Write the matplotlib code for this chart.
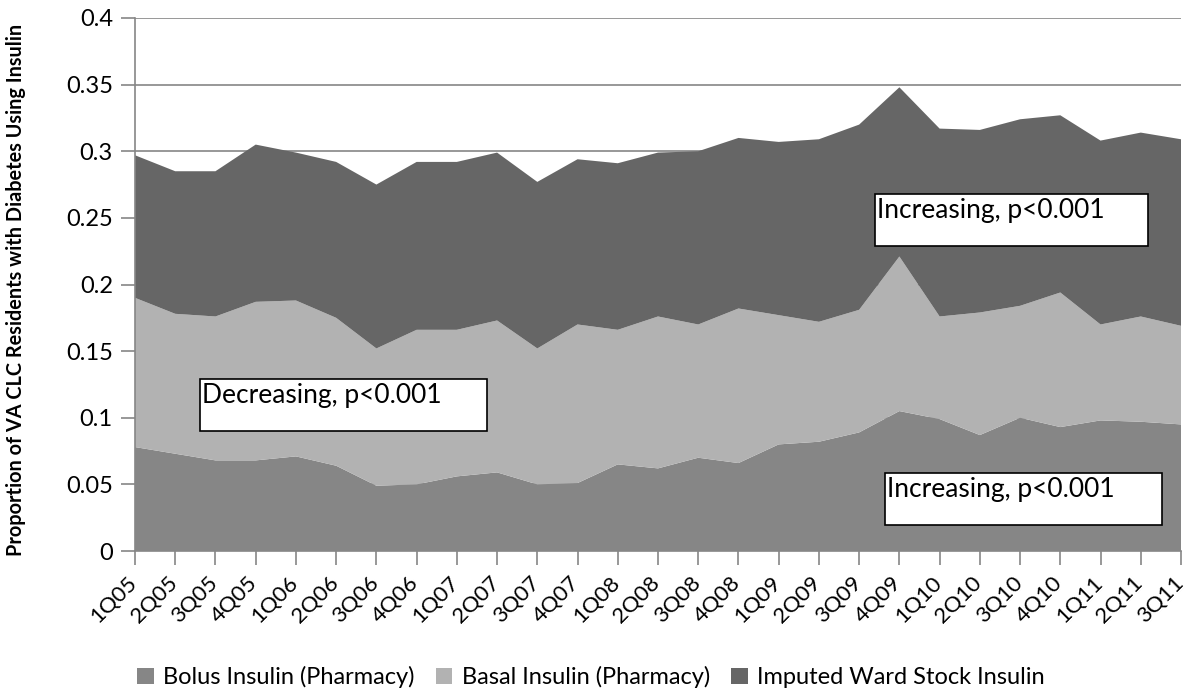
import matplotlib
matplotlib.use("Agg")
import matplotlib.pyplot as plt
from matplotlib.patches import Patch, Rectangle

plt.rcParams['font.family'] = ['Lato', 'DejaVu Sans']

quarters = ['1Q05', '2Q05', '3Q05', '4Q05', '1Q06', '2Q06', '3Q06', '4Q06',
            '1Q07', '2Q07', '3Q07', '4Q07', '1Q08', '2Q08', '3Q08', '4Q08',
            '1Q09', '2Q09', '3Q09', '4Q09', '1Q10', '2Q10', '3Q10', '4Q10',
            '1Q11', '2Q11', '3Q11']

bolus = [0.078, 0.073, 0.068, 0.068, 0.071, 0.064, 0.049, 0.050,
         0.056, 0.059, 0.050, 0.051, 0.065, 0.062, 0.070, 0.066,
         0.080, 0.082, 0.089, 0.105, 0.099, 0.087, 0.100, 0.093,
         0.098, 0.097, 0.095]
basal = [0.112, 0.105, 0.108, 0.119, 0.117, 0.111, 0.103, 0.116,
         0.110, 0.114, 0.102, 0.119, 0.101, 0.114, 0.100, 0.116,
         0.097, 0.090, 0.092, 0.116, 0.077, 0.092, 0.084, 0.101,
         0.072, 0.079, 0.074]
ward = [0.107, 0.107, 0.109, 0.118, 0.111, 0.117, 0.123, 0.126,
        0.126, 0.126, 0.125, 0.124, 0.125, 0.123, 0.130, 0.128,
        0.130, 0.137, 0.139, 0.127, 0.141, 0.137, 0.140, 0.133,
        0.138, 0.138, 0.140]

labels = ['Bolus Insulin (Pharmacy)', 'Basal Insulin (Pharmacy)',
          'Imputed Ward Stock Insulin']
colors = ['#868686', '#b2b2b2', '#666666']

W, H = 1186, 694
fig = plt.figure(figsize=(W / 100, H / 100), dpi=100)
ax = fig.add_axes([135 / W, 1 - 551 / H, (1181 - 135) / W, (551 - 18) / H])

x = list(range(len(quarters)))
ax.stackplot(x, bolus, basal, ward, colors=colors, linewidth=0, zorder=2)

ax.set_xlim(0, len(quarters) - 1)
ax.set_ylim(0, 0.4)
ax.set_yticks([i * 0.05 for i in range(9)])
ax.set_yticklabels(['0', '0.05', '0.1', '0.15', '0.2', '0.25', '0.3', '0.35', '0.4'],
                   fontsize=17)
ax.set_xticks(x)
ax.set_xticklabels([])
# rotated category labels, placed so they end just left of each tick
for i, q in enumerate(quarters):
    ax.annotate(q, xy=(i, 0), xycoords=('data', 'axes fraction'),
                xytext=(-8, -22), textcoords='offset pixels',
                rotation=45, ha='right', va='top', rotation_mode='anchor',
                fontsize=16, annotation_clip=False)

ax.yaxis.grid(True, color='#868686', linewidth=1.2, zorder=1)
ax.set_axisbelow(True)
for sp in ['top', 'right']:
    ax.spines[sp].set_visible(False)
for sp in ['left', 'bottom']:
    ax.spines[sp].set_color('#868686')
    ax.spines[sp].set_linewidth(1.2)
    ax.spines[sp].set_zorder(3)
ax.tick_params(axis='both', color='#868686', length=10, width=1.2, direction='out')
ax.tick_params(axis='y', pad=6)

ax.set_ylabel('Proportion of VA CLC Residents with Diabetes Using Insulin',
              fontsize=14.3, fontweight='bold')
ax.yaxis.set_label_coords(-109 / (1181 - 135), 0.49)

# trend annotation boxes (pixel positions)
boxes = [(875, 194, 1148, 246, 'Increasing, p<0.001'),
         (200, 379, 487, 431, 'Decreasing, p<0.001'),
         (885, 473, 1162, 525, 'Increasing, p<0.001')]
for x0, y0, x1, y1, txt in boxes:
    rect = Rectangle((x0 / W, 1 - y1 / H), (x1 - x0) / W, (y1 - y0) / H,
                     transform=fig.transFigure, facecolor='white',
                     edgecolor='black', linewidth=1.2, zorder=5)
    fig.patches.append(rect)
    fig.text((x0 + 2) / W, 1 - (y0 + 4) / H, txt, fontsize=19,
             ha='left', va='top', zorder=6)

handles = [Patch(facecolor=c, edgecolor='none') for c in colors]
fig.legend(handles, labels, loc='center', bbox_to_anchor=(591 / W, 1 - 677 / H),
           ncol=3, frameon=False, fontsize=17, handlelength=0.7,
           handleheight=0.7, handletextpad=0.4, columnspacing=0.9)

fig.savefig('out.png', dpi=100)
